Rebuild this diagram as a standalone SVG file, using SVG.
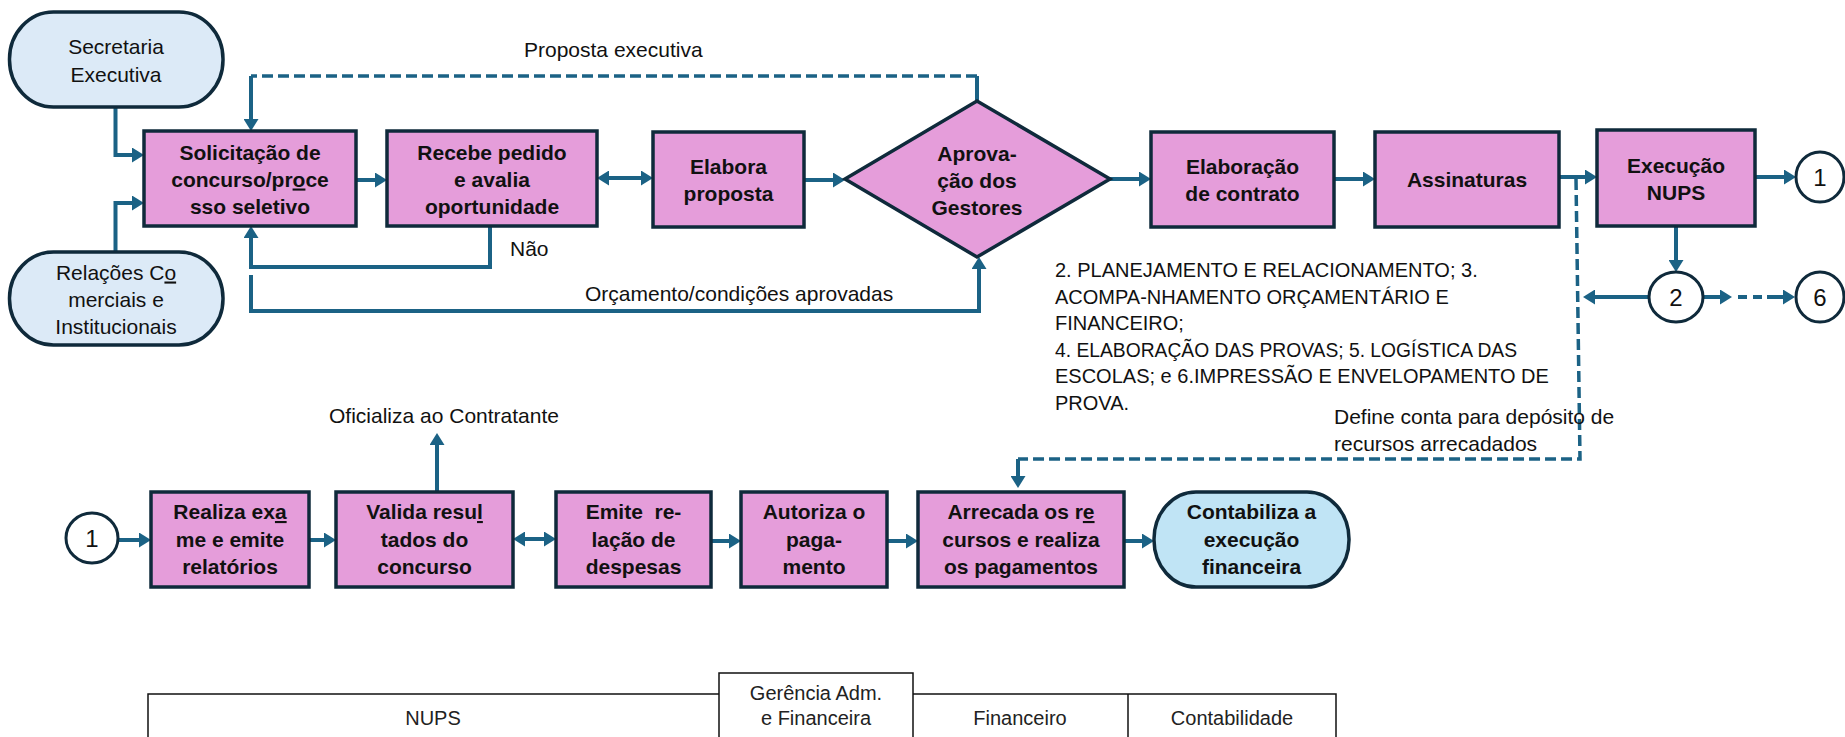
<svg xmlns="http://www.w3.org/2000/svg" width="1845" height="737" viewBox="0 0 1845 737">
<style>
.box{fill:#E59DDA;stroke:#0F2A3B;stroke-width:3.5}
.pill{fill:#DCEAF7;stroke:#0F2A3B;stroke-width:3.5}
.pill2{fill:#C0E4F5;stroke:#0F2A3B;stroke-width:3.5}
.circ{fill:#FFFFFF;stroke:#0F2A3B;stroke-width:3}
.b{font-family:"Liberation Sans",Arial,sans-serif;font-weight:bold;font-size:21px;fill:#111;text-anchor:middle}
.r{font-family:"Liberation Sans",Arial,sans-serif;font-size:21px;fill:#111}
.p{font-family:"Liberation Sans",Arial,sans-serif;font-size:20px;fill:#111}
.m{text-anchor:middle}
.n{font-family:"Liberation Sans",Arial,sans-serif;font-size:24px;fill:#111;text-anchor:middle}
.con{fill:none;stroke:#1B6285;stroke-width:4}
.arr{marker-end:url(#ah)}
.dash{fill:none;stroke:#1B6285;stroke-width:3.5;stroke-dasharray:11 5}
.tbl{fill:none;stroke:#111;stroke-width:1.5}
.t{font-family:"Liberation Sans",Arial,sans-serif;font-size:20px;fill:#222;text-anchor:middle}
.u{text-decoration:underline}
</style>
<defs>
<marker id="ah" markerUnits="userSpaceOnUse" markerWidth="12" markerHeight="15" refX="6" refY="7.5" orient="auto-start-reverse">
<path d="M0,0 L12,7.5 L0,15 z" fill="#1B6285"/>
</marker>
</defs>

<g id="connectors">
<path class="con arr" d="M115.5,107 V155 H138"/>
<path class="con arr" d="M115.5,252 V203 H138"/>
<path class="con arr" d="M356,180 H381"/>
<path class="con arr" d="M603,178 H647" marker-start="url(#ah)"/>
<path class="con arr" d="M804,180 H839"/>
<path class="con arr" d="M1110,179 H1145"/>
<path class="con arr" d="M1334,179 H1369"/>
<path class="con arr" d="M1559,177 H1591"/>
<path class="con arr" d="M1755,177 H1790"/>
<path class="con arr" d="M1676,226 V266"/>
<path class="con arr" d="M1649,297 H1589"/>
<path class="con arr" d="M1704,297 H1726"/>
<path class="con" d="M1738,297 H1763" stroke-width="5" stroke-dasharray="9 6"/>
<path class="con arr" d="M1767,297 H1789"/>
<path class="con" d="M977,101 V76"/>
<path class="dash" d="M977,76 H251"/>
<path class="con arr" d="M251,76 V125"/>
<path class="con arr" d="M490,226 V267 H251 V232"/>
<path class="con arr" d="M251,275 V311 H979 V263"/>
<path class="dash" d="M1576,179 L1580,459 H1018"/>
<path class="con arr" d="M1018,459 V482"/>
<path class="con arr" d="M118,540 H145"/>
<path class="con arr" d="M309,540 H330"/>
<path class="con arr" d="M437,492 V439"/>
<path class="con arr" d="M519,539 H550" marker-start="url(#ah)"/>
<path class="con arr" d="M711,541 H735"/>
<path class="con arr" d="M887,541 H912"/>
<path class="con arr" d="M1124,541 H1148"/>
</g>

<g id="secretaria">
<rect class="pill" x="9.5" y="12" width="213.5" height="95" rx="44" ry="47"/>
<text class="r m" x="116" y="53.5">Secretaria</text>
<text class="r m" x="116" y="81.5">Executiva</text>
</g>
<g id="relacoes">
<rect class="pill" x="9.5" y="252" width="213.5" height="93" rx="44" ry="46"/>
<text class="r m" x="116" y="279.5">Relações C<tspan class="u">o</tspan></text>
<text class="r m" x="116" y="306.5">merciais e</text>
<text class="r m" x="116" y="333.5">Institucionais</text>
</g>
<g id="solicitacao">
<rect class="box" x="144" y="131" width="212" height="95"/>
<text class="b" x="250" y="159.5">Solicitação de</text>
<text class="b" x="250" y="186.5">concurso/pr<tspan class="u">o</tspan>ce</text>
<text class="b" x="250" y="213.5">sso seletivo</text>
</g>
<g id="recebe">
<rect class="box" x="387" y="131" width="210" height="95"/>
<text class="b" x="492" y="159.5">Recebe pedido</text>
<text class="b" x="492" y="186.5">e avalia</text>
<text class="b" x="492" y="213.5">oportunidade</text>
</g>
<g id="elabora">
<rect class="box" x="653" y="132" width="151" height="95"/>
<text class="b" x="728.5" y="173.5">Elabora</text>
<text class="b" x="728.5" y="200.5">proposta</text>
</g>
<g id="aprovacao">
<polygon class="box" points="845,179 977,101 1110,179 977,257"/>
<text class="b" x="977" y="160.5">Aprova-</text>
<text class="b" x="977" y="187.5">ção dos</text>
<text class="b" x="977" y="214.5">Gestores</text>
</g>
<g id="contrato">
<rect class="box" x="1151" y="132" width="183" height="95"/>
<text class="b" x="1242.5" y="173.5">Elaboração</text>
<text class="b" x="1242.5" y="200.5">de contrato</text>
</g>
<g id="assinaturas">
<rect class="box" x="1375" y="132" width="184" height="95"/>
<text class="b" x="1467" y="187">Assinaturas</text>
</g>
<g id="execucao">
<rect class="box" x="1597" y="130" width="158" height="96"/>
<text class="b" x="1676" y="172.5">Execução</text>
<text class="b" x="1676" y="199.5">NUPS</text>
</g>
<g id="c1top">
<ellipse class="circ" cx="1820" cy="177" rx="24" ry="25"/>
<text class="n" x="1820" y="185.5">1</text>
</g>
<g id="c2">
<ellipse class="circ" cx="1676" cy="297" rx="27" ry="25"/>
<text class="n" x="1676" y="305.5">2</text>
</g>
<g id="c6">
<ellipse class="circ" cx="1820" cy="297" rx="24" ry="25"/>
<text class="n" x="1820" y="305.5">6</text>
</g>
<g id="c1bottom">
<ellipse class="circ" cx="92" cy="538" rx="26" ry="25"/>
<text class="n" x="92" y="546.5">1</text>
</g>
<g id="realiza">
<rect class="box" x="151" y="492" width="158" height="95"/>
<text class="b" x="230" y="519">Realiza ex<tspan class="u">a</tspan></text>
<text class="b" x="230" y="547">me e emite</text>
<text class="b" x="230" y="574">relatórios</text>
</g>
<g id="valida">
<rect class="box" x="336" y="492" width="177" height="95"/>
<text class="b" x="424.5" y="519">Valida resu<tspan class="u">l</tspan></text>
<text class="b" x="424.5" y="547">tados do</text>
<text class="b" x="424.5" y="574">concurso</text>
</g>
<g id="emite">
<rect class="box" x="556" y="492" width="155" height="95"/>
<text class="b" x="633.5" y="519" xml:space="preserve">Emite  re-</text>
<text class="b" x="633.5" y="547">lação de</text>
<text class="b" x="633.5" y="574">despesas</text>
</g>
<g id="autoriza">
<rect class="box" x="741" y="492" width="146" height="95"/>
<text class="b" x="814" y="519">Autoriza o</text>
<text class="b" x="814" y="547">paga-</text>
<text class="b" x="814" y="574">mento</text>
</g>
<g id="arrecada">
<rect class="box" x="918" y="492" width="206" height="95"/>
<text class="b" x="1021" y="519">Arrecada os r<tspan class="u">e</tspan></text>
<text class="b" x="1021" y="547">cursos e realiza</text>
<text class="b" x="1021" y="574">os pagamentos</text>
</g>
<g id="contabiliza">
<rect class="pill2" x="1154" y="492" width="195" height="95" rx="42" ry="47"/>
<text class="b" x="1251.5" y="519">Contabiliza a</text>
<text class="b" x="1251.5" y="547">execução</text>
<text class="b" x="1251.5" y="574">financeira</text>
</g>

<g id="labels">
<text class="r" x="524" y="56.5">Proposta executiva</text>
<text class="r" x="510" y="255.5">Não</text>
<text class="r" x="585" y="300.5">Orçamento/condições aprovadas</text>
<text class="r" x="329" y="423">Oficializa ao Contratante</text>
<text class="r" x="1334" y="423.5">Define conta para depósito de</text>
<text class="r" x="1334" y="450.5">recursos arrecadados</text>
<text class="p" x="1055" y="277">2. PLANEJAMENTO E RELACIONAMENTO; 3.</text>
<text class="p" x="1055" y="303.5">ACOMPA-NHAMENTO ORÇAMENTÁRIO E</text>
<text class="p" x="1055" y="330">FINANCEIRO;</text>
<text class="p" x="1055" y="356.5" textLength="462" lengthAdjust="spacingAndGlyphs">4. ELABORAÇÃO DAS PROVAS; 5. LOGÍSTICA DAS</text>
<text class="p" x="1055" y="383">ESCOLAS; e 6.IMPRESSÃO E ENVELOPAMENTO DE</text>
<text class="p" x="1055" y="409.5">PROVA.</text>
</g>

<g id="lanes">
<path class="tbl" d="M148,737 V694 H719"/>
<path class="tbl" d="M719,737 V673 H913 V737"/>
<path class="tbl" d="M913,694 H1336 V737"/>
<path class="tbl" d="M1128,694 V737"/>
<text class="t" x="433" y="725">NUPS</text>
<text class="t" x="816" y="700">Gerência Adm.</text>
<text class="t" x="816" y="725">e Financeira</text>
<text class="t" x="1020" y="725">Financeiro</text>
<text class="t" x="1232" y="725">Contabilidade</text>
</g>
</svg>
